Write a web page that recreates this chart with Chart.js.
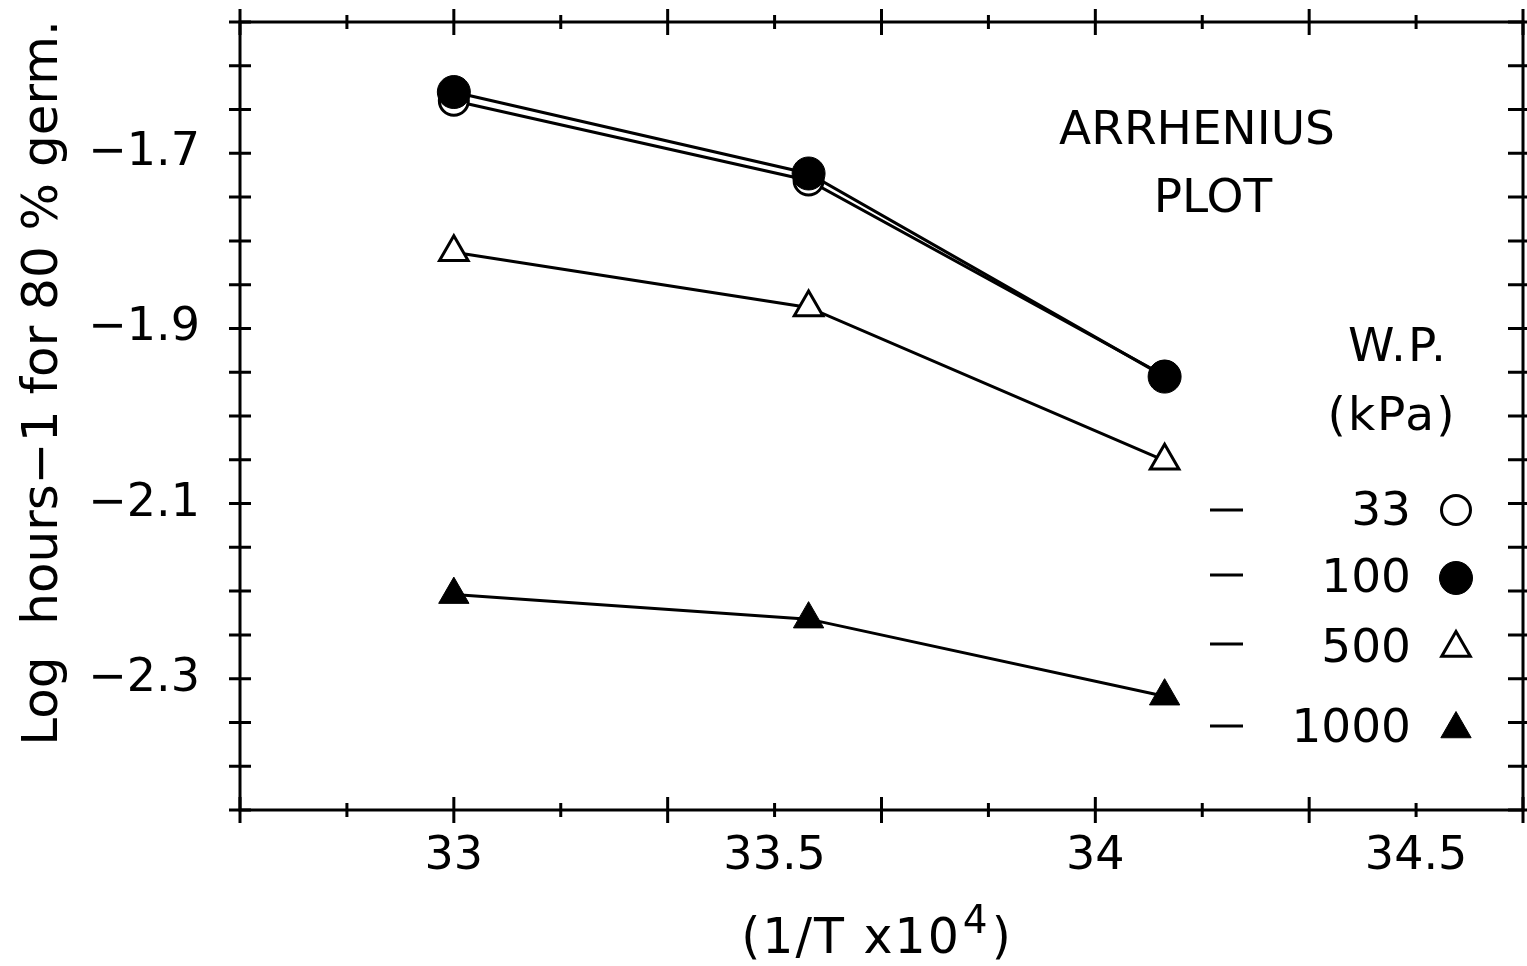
<!DOCTYPE html>
<html><head><meta charset="utf-8">
<script src="https://cdn.jsdelivr.net/npm/chart.js@4.4.0/dist/chart.umd.min.js"></script>
<style>html,body{margin:0;padding:0;background:#fff;overflow:hidden}#wrap{width:1527px;height:966px}</style>
</head><body><div id="wrap"><canvas id="c" width="1527" height="966"></canvas></div>
<script>
// ---- data ----
const xValues = [33.0, 33.553, 34.108];
const series33 = [-1.640, -1.731, -1.954];
const series100 = [-1.630, -1.723, -1.955];
const series500 = [-1.813, -1.876, -2.051];
const series1000 = [-2.204, -2.232, -2.320];
const seriesNames = ['33', '100', '500', '1000'];
const xTickValues = [98/3, 197/6, 33, 199/6, 100/3, 33.5, 101/3, 203/6, 34, 205/6, 103/3, 34.5, 104/3];
const xTickLabels = [33, 33.5, 34, 34.5];
const yTickValues = [-2.45, -2.4, -2.35, -2.3, -2.25, -2.2, -2.15, -2.1, -2.05, -2.0, -1.95, -1.9, -1.85, -1.8, -1.75, -1.7, -1.65, -1.6, -1.55];
const yTickLabels = [-1.7, -1.9, -2.1, -2.3];
const yTitle = 'Log  hours\u22121 for 80 % germ.';
const xTitle = ['(1/T x10', '4', ')'];
const plotNote = ['ARRHENIUS', 'PLOT'];
const legendHead = ['W.P.', '(kPa)'];

const FONT = '"DejaVu Sans", sans-serif';
const pts = arr => arr.map((v, i) => ({x: xValues[i], y: v}));

const styles = {
  '33':   {pointStyle: 'circle',   radius: 14.5, bg: '#fff', bw: 3},
  '100':  {pointStyle: 'circle',   radius: 16.5, bg: '#000', bw: 1},
  '500':  {pointStyle: 'triangle', radius: 16.5, bg: '#fff', bw: 3},
  '1000': {pointStyle: 'triangle', radius: 17.5, bg: '#000', bw: 1}
};
function ds(name, arr, order) {
  const s = styles[name];
  return {label: name, data: pts(arr), order: order, borderColor: '#000', borderWidth: 3,
    pointStyle: s.pointStyle, pointRadius: s.radius, pointBackgroundColor: s.bg,
    pointBorderColor: '#000', pointBorderWidth: s.bw, tension: 0, fill: false};
}

function drawMarker(ctx, name, x, y) {
  const s = styles[name];
  ctx.save();
  ctx.fillStyle = s.bg; ctx.strokeStyle = '#000'; ctx.lineWidth = s.bw;
  if (Chart.helpers && Chart.helpers.drawPoint) {
    Chart.helpers.drawPoint(ctx, {pointStyle: s.pointStyle, radius: s.radius, rotation: 0, borderWidth: s.bw}, x, y);
  } else {
    ctx.beginPath();
    if (s.pointStyle === 'circle') ctx.arc(x, y, s.radius, 0, Math.PI * 2);
    else { const r = s.radius; ctx.moveTo(x, y - r); ctx.lineTo(x + r * 0.866, y + r / 2); ctx.lineTo(x - r * 0.866, y + r / 2); ctx.closePath(); }
    ctx.fill(); ctx.stroke();
  }
  ctx.restore();
}

const decor = {
  id: 'decor',
  afterDraw(chart) {
    const ctx = chart.ctx;
    const xs = chart.scales.x, ys = chart.scales.y;
    const L = xs.getPixelForValue(xs.min), R = xs.getPixelForValue(xs.max);
    const T = ys.getPixelForValue(ys.max), B = ys.getPixelForValue(ys.min);
    ctx.save();
    ctx.strokeStyle = '#000'; ctx.lineWidth = 3; ctx.lineCap = 'butt';
    ctx.strokeRect(L, T, R - L, B - T);
    ctx.beginPath();
    xTickValues.forEach((v, i) => {
      const px = xs.getPixelForValue(v), h = (i % 2 === 0) ? 13 : 7;
      ctx.moveTo(px, B - h); ctx.lineTo(px, B + h);
      ctx.moveTo(px, T - h); ctx.lineTo(px, T + h);
    });
    yTickValues.forEach(v => {
      const py = ys.getPixelForValue(v);
      ctx.moveTo(L - 11, py); ctx.lineTo(L + 11, py);
      ctx.moveTo(R - 15, py); ctx.lineTo(R + 4, py);
    });
    ctx.stroke();

    ctx.fillStyle = '#000';
    // y title
    ctx.save();
    ctx.translate(57, 383);
    ctx.rotate(-Math.PI / 2);
    ctx.font = '50px ' + FONT; ctx.textAlign = 'center'; ctx.textBaseline = 'alphabetic';
    ctx.fillText(yTitle, 0, 0);
    ctx.restore();
    // x title with superscript
    ctx.save();
    try { ctx.letterSpacing = '2px'; } catch (e) {}
    ctx.textBaseline = 'alphabetic'; ctx.textAlign = 'left';
    ctx.font = '49px ' + FONT;
    const w1 = ctx.measureText(xTitle[0]).width;
    const w3 = ctx.measureText(xTitle[2]).width;
    ctx.font = '39px ' + FONT;
    const w2 = ctx.measureText(xTitle[1]).width;
    const total = w1 + w2 + w3 + 4;
    let sx = 877 - total / 2;
    ctx.font = '49px ' + FONT; ctx.fillText(xTitle[0], sx, 953);
    ctx.font = '39px ' + FONT; ctx.fillText(xTitle[1], sx + w1 + 2, 933);
    ctx.font = '49px ' + FONT; ctx.fillText(xTitle[2], sx + w1 + w2 + 4, 953);
    ctx.restore();
    // note
    ctx.font = '47px ' + FONT; ctx.textAlign = 'center'; ctx.textBaseline = 'alphabetic';
    ctx.fillText(plotNote[0], 1197, 144);
    ctx.fillText(plotNote[1], 1213, 212);
    // legend header
    ctx.save();
    try { ctx.letterSpacing = '2px'; } catch (e) {}
    ctx.fillText(legendHead[0], 1398, 361);
    ctx.fillText(legendHead[1], 1392, 430);
    ctx.restore();
    // legend rows
    const rows = [
      {base: 525, dashY: 510, my: 510},
      {base: 592, dashY: 575, my: 578},
      {base: 662, dashY: 644, my: 648},
      {base: 742, dashY: 726, my: 729}
    ];
    ctx.textAlign = 'right';
    seriesNames.forEach((n, i) => {
      const r = rows[i];
      ctx.fillText(n, 1411, r.base);
      ctx.beginPath(); ctx.lineWidth = 3;
      ctx.moveTo(1210, r.dashY); ctx.lineTo(1243, r.dashY); ctx.stroke();
      drawMarker(ctx, n, 1456, r.my);
    });
    ctx.restore();
  }
};

const near = (v, list) => list.find(t => Math.abs(t - v) < 1e-6);

const chart = new Chart(document.getElementById('c'), {
  type: 'line',
  data: {datasets: [ds('33', series33, 2), ds('100', series100, 1), ds('500', series500, 3), ds('1000', series1000, 4)]},
  options: {
    responsive: false, animation: false, devicePixelRatio: 1,
    layout: {autoPadding: false, padding: {top: 22, right: 4, left: 0, bottom: 0}},
    plugins: {legend: {display: false}, tooltip: {enabled: false}, title: {display: false}},
    scales: {
      x: {type: 'linear', min: 98/3, max: 104/3,
        afterBuildTicks: s => { s.ticks = xTickValues.map(v => ({value: v})); },
        afterFit: s => { s.height = 156; s.paddingLeft = 0; s.paddingRight = 0; },
        ticks: {autoSkip: false, maxRotation: 0, padding: 19, color: '#000', font: {family: 'DejaVu Sans', size: 46},
          callback: v => { const t = near(v, xTickLabels); return t === undefined ? '' : String(t); }},
        grid: {display: false, drawTicks: false}, border: {display: false}},
      y: {type: 'linear', min: -2.45, max: -1.55,
        afterBuildTicks: s => { s.ticks = yTickValues.map(v => ({value: v})); },
        afterFit: s => { s.width = 240; s.paddingTop = 0; s.paddingBottom = 0; },
        ticks: {autoSkip: false, padding: 40, color: '#000', font: {family: 'DejaVu Sans', size: 46},
          callback: v => { const t = near(v, yTickLabels); return t === undefined ? '' : '\u2212' + Math.abs(t).toFixed(1); }},
        grid: {display: false, drawTicks: false}, border: {display: false}}
    }
  },
  plugins: [decor]
});
</script></body></html>
